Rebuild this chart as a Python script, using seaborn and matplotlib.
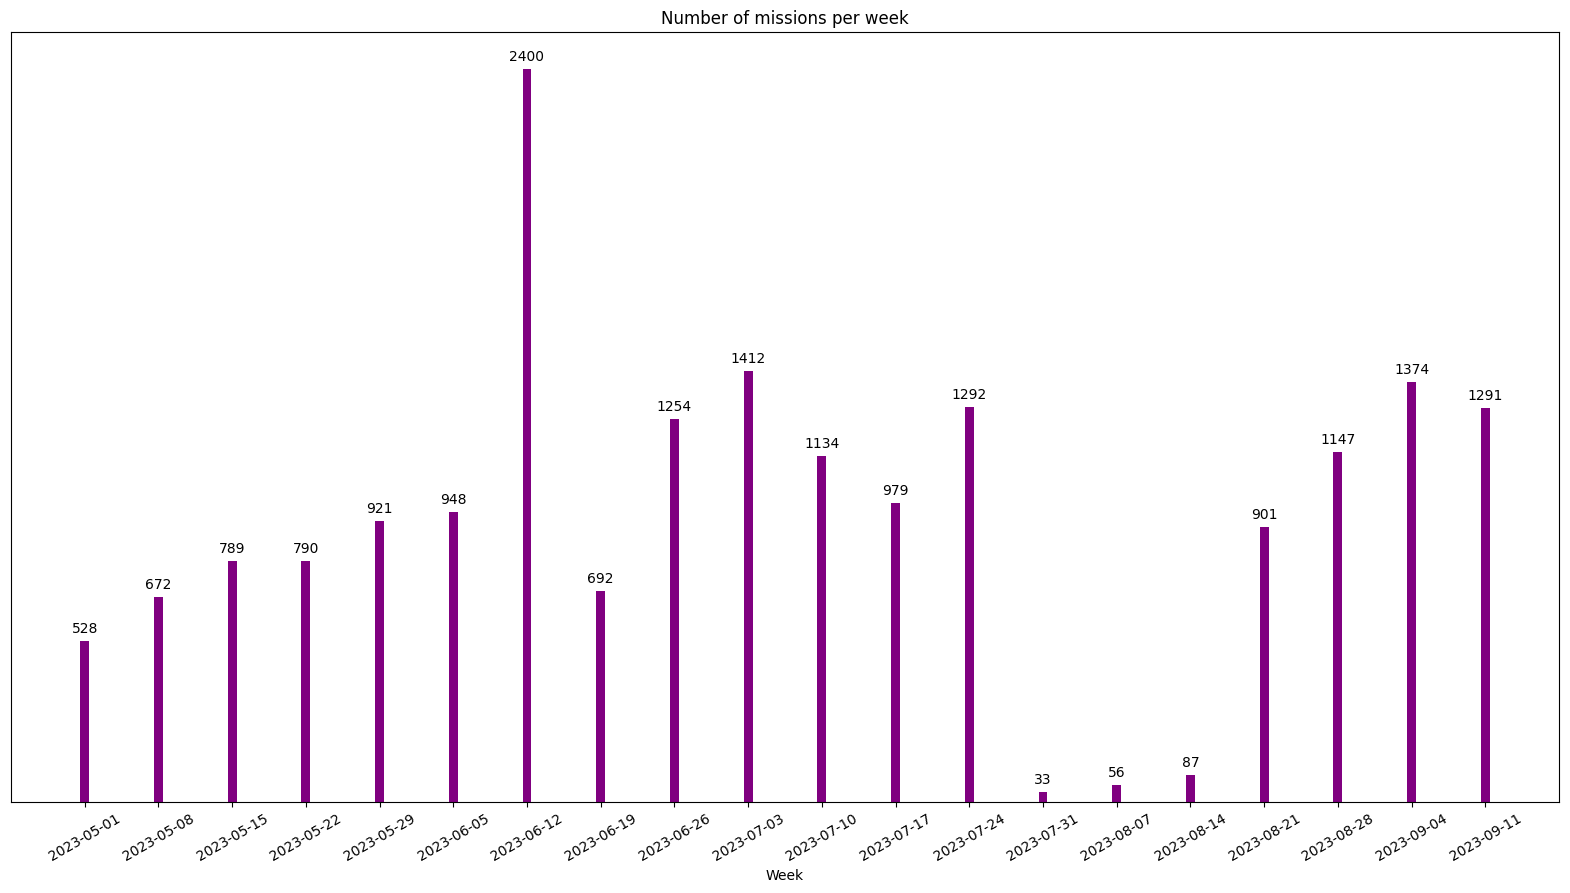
import matplotlib
matplotlib.use("Agg")
import matplotlib.pyplot as plt
import seaborn as sns
import pandas as pd

weeks = ["2023-05-01", "2023-05-08", "2023-05-15", "2023-05-22", "2023-05-29",
         "2023-06-05", "2023-06-12", "2023-06-19", "2023-06-26", "2023-07-03",
         "2023-07-10", "2023-07-17", "2023-07-24", "2023-07-31", "2023-08-07",
         "2023-08-14", "2023-08-21", "2023-08-28", "2023-09-04", "2023-09-11"]
missions = [528, 672, 789, 790, 921, 948, 2400, 692, 1254, 1412,
            1134, 979, 1292, 33, 56, 87, 901, 1147, 1374, 1291]

df = pd.DataFrame({"Week": weeks, "Missions": missions})

fig, ax = plt.subplots(figsize=(15.7, 8.93), dpi=100)
sns.barplot(data=df, x="Week", y="Missions", color="purple", width=0.12,
            saturation=1, ax=ax)
for p, v in zip(ax.patches, missions):
    ax.annotate(f"{v}", (p.get_x() + p.get_width() / 2, p.get_height()),
                xytext=(0, 3.5), textcoords="offset points",
                ha="center", va="bottom", fontsize=10)
ax.set_xlim(-1, len(weeks))
ax.set_ylim(0, max(missions) * 1.05)
ax.set_yticks([])
ax.set_ylabel("")
ax.set_xlabel("Week")
ax.set_title("Number of missions per week")
plt.xticks(rotation=30)
fig.subplots_adjust(left=0.007, right=0.993, top=0.964, bottom=0.102)
fig.savefig("out.png", dpi=100)
